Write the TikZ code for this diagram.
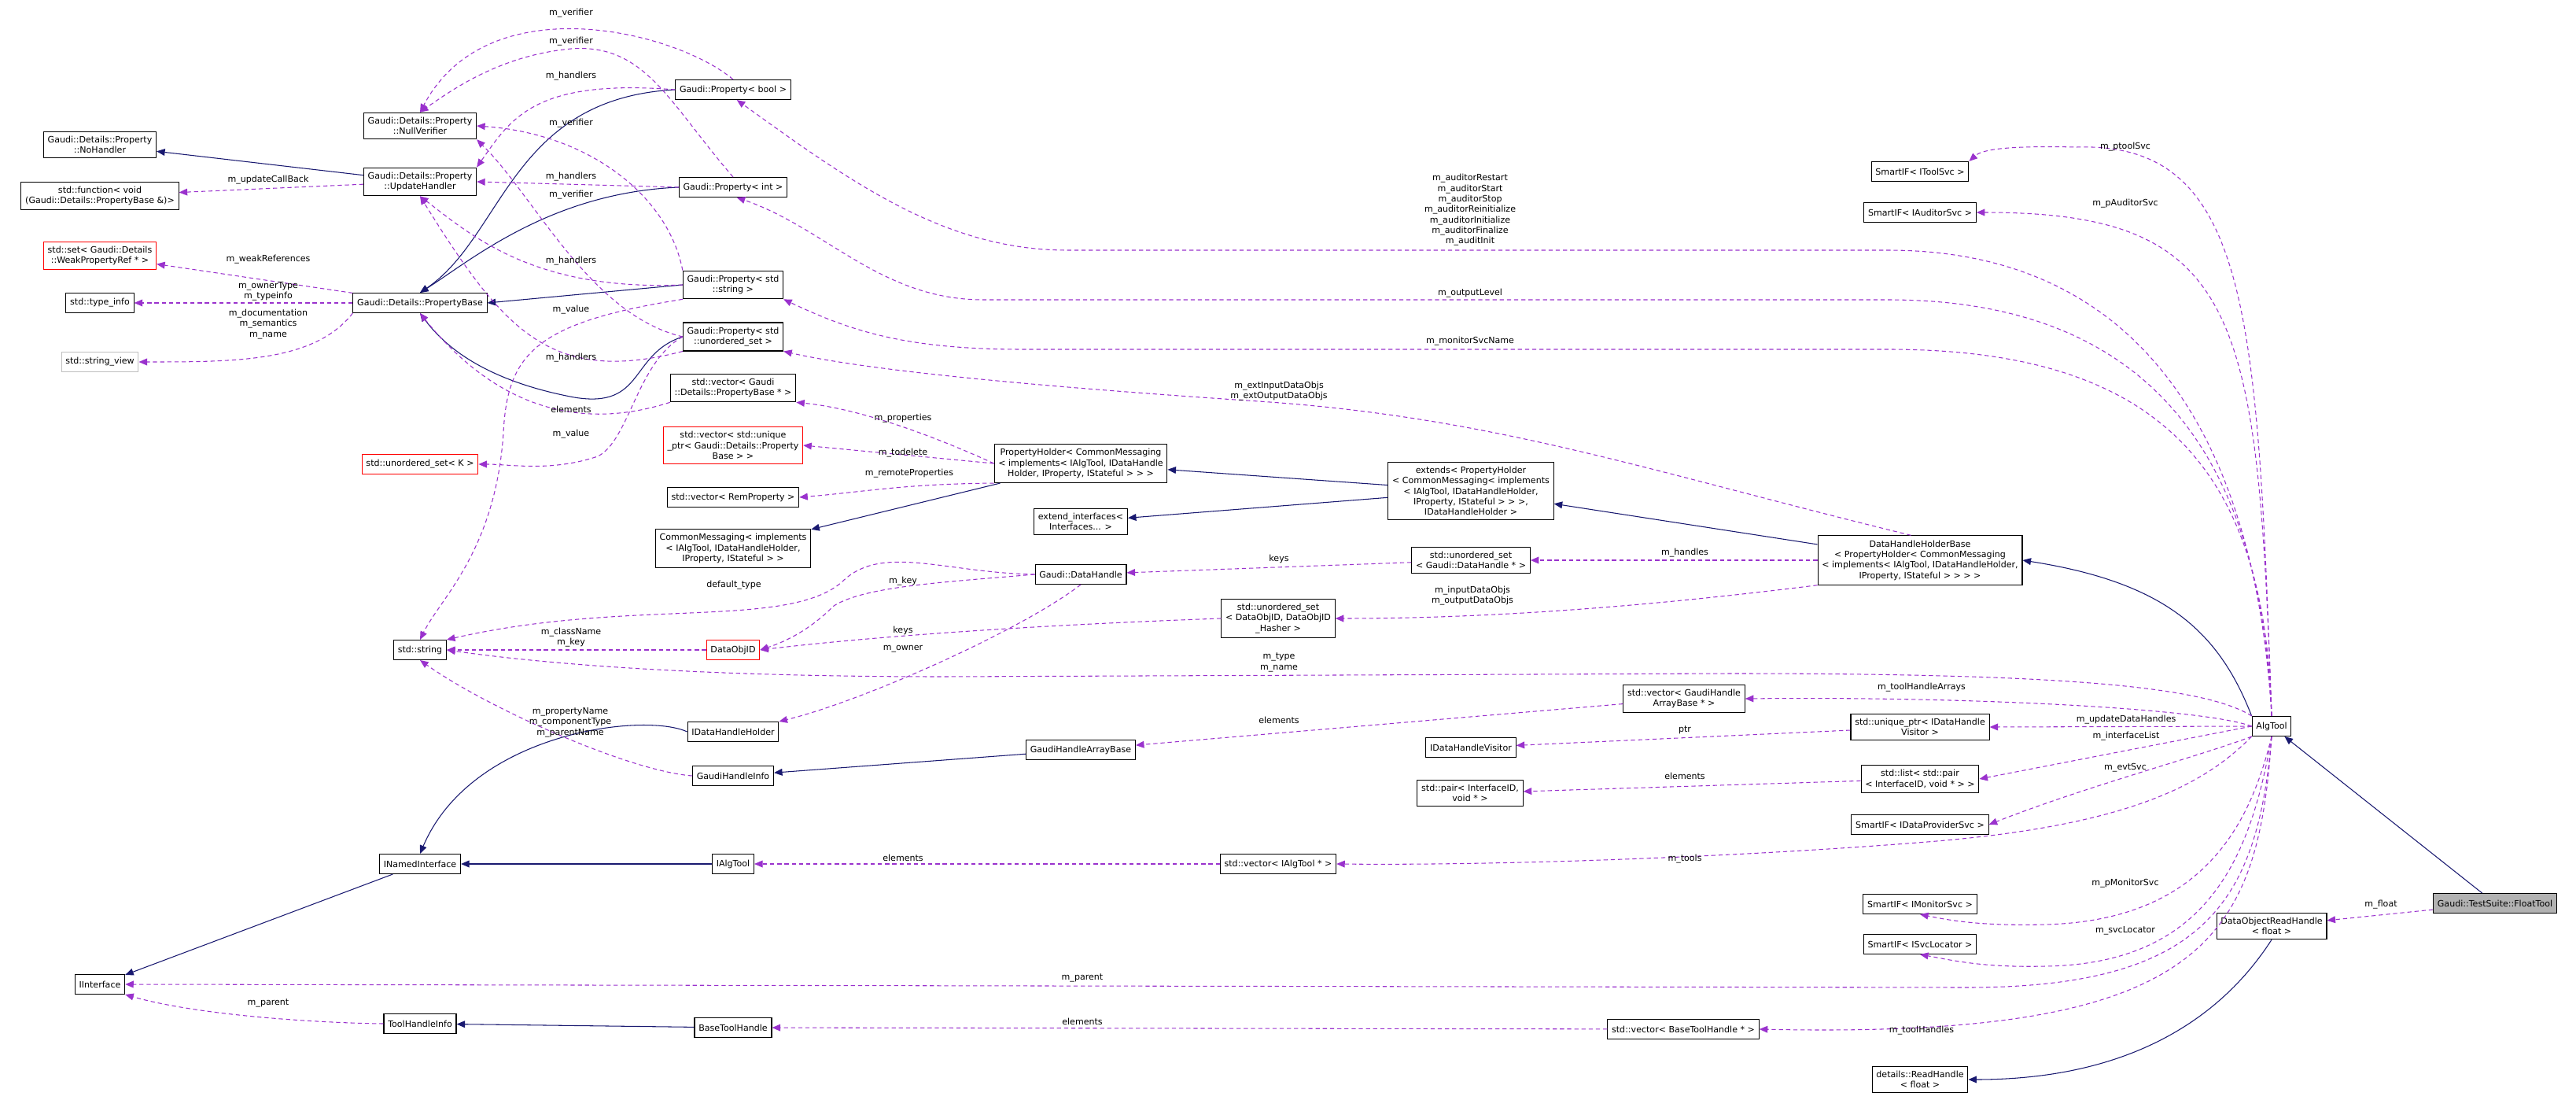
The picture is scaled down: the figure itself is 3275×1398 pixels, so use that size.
\documentclass[tikz,border=0pt]{standalone}
\usepackage{fontspec}
\setmainfont{DejaVu Sans}
\usetikzlibrary{arrows.meta}
\definecolor{purp}{HTML}{9A32CD}
\definecolor{navy}{HTML}{191970}
\definecolor{redb}{HTML}{FF0000}
\begin{document}
\begin{tikzpicture}[x=0.02cm,y=-0.02cm,
  box/.style={draw=black,line width=0.6pt,fill=white,inner xsep=3pt,inner ysep=3.3pt,minimum height=0.5cm,align=center,font=\fontsize{6.3}{7.6}\selectfont},
  redbox/.style={box,draw=redb},
  graybox/.style={box,draw=gray!50},
  lab/.style={inner sep=0pt,align=center,font=\fontsize{6.3}{7.6}\selectfont},
  inh/.style={draw=navy,line width=0.6pt,-{Triangle[length=6pt,width=5pt]}},
  use/.style={draw=purp,line width=0.6pt,dash pattern=on 3pt off 2.2pt,-{Triangle[length=6pt,width=5pt]}}]
\useasboundingbox (0,0) rectangle (3275,1398);
% nodes
\node[box] (Pbool) at (932,114) {Gaudi::Property< bool >};
\node[box] (NullV) at (534,160) {Gaudi::Details::Property\\::NullVerifier};
\node[box] (NoH) at (127,184) {Gaudi::Details::Property\\::NoHandler};
\node[box] (UpdH) at (534,231) {Gaudi::Details::Property\\::UpdateHandler};
\node[box] (func) at (127,249) {std::function< void\\(Gaudi::Details::PropertyBase \&)>};
\node[box] (Pint) at (932,238) {Gaudi::Property< int >};
\node[redbox] (set) at (127,325) {std::set< Gaudi::Details\\::WeakPropertyRef * >};
\node[box] (tinfo) at (127,385) {std::type\_info};
\node[box] (PB) at (534,385) {Gaudi::Details::PropertyBase};
\node[graybox] (sview) at (127,460) {std::string\_view};
\node[box] (Pstr) at (932,362) {Gaudi::Property< std\\::string >};
\node[box] (Pus) at (932,428) {Gaudi::Property< std\\::unordered\_set >};
\node[box] (vPB) at (932,493) {std::vector< Gaudi\\::Details::PropertyBase * >};
\node[redbox] (vUP) at (932,566) {std::vector< std::unique\\\_ptr< Gaudi::Details::Property\\Base > >};
\node[redbox] (usK) at (534,590) {std::unordered\_set< K >};
\node[box] (vRem) at (932,632) {std::vector< RemProperty >};
\node[box] (CM) at (932,697) {CommonMessaging< implements\\< IAlgTool, IDataHandleHolder,\\IProperty, IStateful > >};
\node[box] (str) at (534,826) {std::string};
\node[redbox] (DOID) at (932,826) {DataObjID};
\node[box] (IDHH) at (932,930) {IDataHandleHolder};
\node[box] (GHI) at (932,986) {GaudiHandleInfo};
\node[box] (INI) at (534,1098) {INamedInterface};
\node[box] (IAT) at (932,1098) {IAlgTool};
\node[box] (IInt) at (127,1251) {IInterface};
\node[box] (THI) at (534,1301) {ToolHandleInfo};
\node[box] (BTH) at (932,1306) {BaseToolHandle};
\node[box] (PH) at (1374,589) {PropertyHolder< CommonMessaging\\< implements< IAlgTool, IDataHandle\\Holder, IProperty, IStateful > > >};
\node[box] (EXT) at (1870,624) {extends< PropertyHolder\\< CommonMessaging< implements\\< IAlgTool, IDataHandleHolder,\\IProperty, IStateful > > >,\\IDataHandleHolder >};
\node[box] (EI) at (1374,663) {extend\_interfaces<\\Interfaces... >};
\node[box] (DH) at (1374,730) {Gaudi::DataHandle};
\node[box] (usDH) at (1870,712) {std::unordered\_set\\< Gaudi::DataHandle * >};
\node[box] (usDO) at (1625,786) {std::unordered\_set\\< DataObjID, DataObjID\\\_Hasher >};
\node[box] (vGHA) at (2141,888) {std::vector< GaudiHandle\\ArrayBase * >};
\node[box] (GHAB) at (1374,953) {GaudiHandleArrayBase};
\node[box] (IDHV) at (1870,950) {IDataHandleVisitor};
\node[box] (pair) at (1869,1008) {std::pair< InterfaceID,\\void * >};
\node[box] (vIAT) at (1625,1098) {std::vector< IAlgTool * >};
\node[box] (vBTH) at (2140,1308) {std::vector< BaseToolHandle * >};
\node[box] (SIT) at (2441,218) {SmartIF< IToolSvc >};
\node[box] (SIA) at (2441,270) {SmartIF< IAuditorSvc >};
\node[box] (DHHB) at (2441,712) {DataHandleHolderBase\\< PropertyHolder< CommonMessaging\\< implements< IAlgTool, IDataHandleHolder,\\IProperty, IStateful > > > >};
\node[box] (uDHV) at (2441,924) {std::unique\_ptr< IDataHandle\\Visitor >};
\node[box] (AT) at (2888,923) {AlgTool};
\node[box] (list) at (2441,990) {std::list< std::pair\\< InterfaceID, void * > >};
\node[box] (SIDP) at (2441,1048) {SmartIF< IDataProviderSvc >};
\node[box] (SIM) at (2441,1149) {SmartIF< IMonitorSvc >};
\node[box] (SISL) at (2441,1200) {SmartIF< ISvcLocator >};
\node[box] (RH) at (2441,1372) {details::ReadHandle\\< float >};
\node[box] (DORH) at (2888,1177) {DataObjectReadHandle\\< float >};
\node[box,fill=gray!60] (FT) at (3172,1148) {Gaudi::TestSuite::FloatTool};
% inheritance
\draw[inh] (UpdH) -- (NoH);
\draw[inh] (Pbool.west) .. controls (650,125) and (640,300) .. (PB.north);
\draw[inh] (Pint.west) .. controls (700,245) and (600,330) .. (PB.north);
\draw[inh] (Pstr.west) -- (PB.east);
\draw[inh] (Pus.west) .. controls (800,450) and (820,520) .. (730,505) .. controls (650,490) and (580,460) .. (PB.south);
\draw[inh] (EXT) -- (PH);
\draw[inh] (PH) -- (CM);
\draw[inh] (EXT) -- (EI);
\draw[inh] (DHHB) -- (EXT);
\draw[inh] (AT.north west) .. controls (2820,800) and (2750,740) .. (DHHB.east);
\draw[inh] (IDHH.west) .. controls (820,905) and (600,930) .. (INI.north);
\draw[inh] (IAT) -- (INI);
\draw[inh] (INI) -- (IInt);
\draw[inh] (GHAB) -- (GHI);
\draw[inh] (BTH) -- (THI);
\draw[inh] (FT) -- (AT);
\draw[inh] (DORH.south) .. controls (2820,1300) and (2700,1372) .. (RH.east);
% usage
\draw[use] (Pbool.north) .. controls (860,40) and (620,-20) .. (NullV.north);
\draw[use] (Pint.north) .. controls (850,130) and (820,55) .. (726,62) .. controls (640,70) and (580,110) .. (NullV.north);
\draw[use] (Pstr.north west) .. controls (850,250) and (750,170) .. (NullV.east);
\draw[use] (Pus.west) .. controls (750,400) and (680,250) .. (NullV.south east);
\draw[use] (Pbool.west) .. controls (680,100) and (650,150) .. (UpdH.north east);
\draw[use] (Pint.west) -- (UpdH.east);
\draw[use] (Pstr.west) .. controls (680,370) and (600,300) .. (UpdH.south);
\draw[use] (Pus.south west) .. controls (700,490) and (640,420) .. (UpdH.south);
\draw[use] (UpdH) -- (func);
\draw[use] (PB) -- (set);
\draw[use] (PB) -- (tinfo);
\draw[use] (PB.south west) .. controls (400,460) and (300,460) .. (sview.east);
\draw[use] (vPB.south west) .. controls (700,560) and (600,480) .. (PB.south);
\draw[use] (Pstr.south west) .. controls (680,410) and (645,450) .. (640,550) .. controls (630,700) and (560,760) .. (str.north);
\draw[use] (Pus.west) .. controls (810,460) and (800,560) .. (760,580) .. controls (700,600) and (650,590) .. (usK.east);
\draw[use] (AT.north) .. controls (2870,600) and (2750,318) .. (2400,318) -- (1357,318) .. controls (1200,318) and (1080,230) .. (Pbool.290);
\draw[use] (AT.north) .. controls (2875,600) and (2750,381) .. (2400,381) -- (1250,381) .. controls (1120,381) and (1050,290) .. (Pint.290);
\draw[use] (AT.north) .. controls (2880,600) and (2750,444) .. (2400,444) -- (1300,444) .. controls (1150,444) and (1080,420) .. (Pstr.south east);
\draw[use] (DHHB.110) .. controls (2100,600) and (1900,530) .. (1600,510) .. controls (1300,490) and (1100,470) .. (Pus.south east);
\draw[use] (PH.west) .. controls (1200,560) and (1100,520) .. (vPB.south east);
\draw[use] (PH.west) -- (vUP.east);
\draw[use] (PH.south west) .. controls (1150,615) and (1100,625) .. (vRem.east);
\draw[use] (DH.west) .. controls (1200,728) and (1120,690) .. (1070,740) .. controls (1000,800) and (800,760) .. (str.north east);
\draw[use] (DH.west) .. controls (1200,740) and (1100,745) .. (1060,770) .. controls (1030,800) and (1000,815) .. (DOID.east);
\draw[use] (DOID) -- (str);
\draw[use] (usDO.west) .. controls (1300,795) and (1100,810) .. (DOID.east);
\draw[use] (DH.south) .. controls (1300,800) and (1100,890) .. (IDHH.north east);
\draw[use] (usDH) -- (DH);
\draw[use] (DHHB.west) -- (usDH.east);
\draw[use] (DHHB.south west) .. controls (2100,770) and (1900,786) .. (usDO.east);
\draw[use] (AT.north west) .. controls (2800,870) and (2600,856) .. (2200,856) -- (1200,860) .. controls (900,860) and (700,845) .. (str.east);
\draw[use] (GHI.west) .. controls (800,980) and (620,900) .. (str.south);
\draw[use] (vGHA) -- (GHAB);
\draw[use] (AT.west) .. controls (2800,900) and (2500,885) .. (vGHA.east);
\draw[use] (uDHV) -- (IDHV);
\draw[use] (AT.west) -- (uDHV.east);
\draw[use] (list) -- (pair);
\draw[use] (AT.west) -- (list.east);
\draw[use] (AT.south west) .. controls (2800,960) and (2650,1000) .. (SIDP.east);
\draw[use] (vIAT) -- (IAT);
\draw[use] (AT.south west) .. controls (2800,1000) and (2700,1050) .. (2450,1070) .. controls (2200,1090) and (1900,1100) .. (vIAT.east);
\draw[use] (AT.north) .. controls (2870,400) and (2860,180) .. (2640,187) .. controls (2550,185) and (2520,190) .. (SIT.north east);
\draw[use] (AT.north) .. controls (2870,400) and (2850,270) .. (SIA.east);
\draw[use] (AT.south) .. controls (2860,1050) and (2800,1170) .. (2600,1175) .. controls (2520,1177) and (2480,1170) .. (SIM.south);
\draw[use] (AT.south) .. controls (2860,1100) and (2800,1225) .. (2600,1228) .. controls (2520,1230) and (2480,1220) .. (SISL.south);
\draw[use] (AT.south) .. controls (2870,1150) and (2800,1255) .. (2500,1255) -- (IInt.east);
\draw[use] (THI.west) .. controls (400,1300) and (250,1290) .. (IInt.south east);
\draw[use] (vBTH) -- (BTH);
\draw[use] (AT.south) .. controls (2870,1200) and (2800,1320) .. (vBTH.east);
\draw[use] (FT) -- (DORH);
% labels
\node[lab] (l1) at (726,17) {m\_verifier};
\node[lab] (l2) at (726,53) {m\_verifier};
\node[lab] (l3) at (726,157) {m\_verifier};
\node[lab] (l4) at (726,248) {m\_verifier};
\node[lab] (l5) at (726,97) {m\_handlers};
\node[lab] (l6) at (726,225) {m\_handlers};
\node[lab] (l7) at (726,332) {m\_handlers};
\node[lab] (l8) at (726,455) {m\_handlers};
\node[lab] (l9) at (341,229) {m\_updateCallBack};
\node[lab] (l10) at (341,330) {m\_weakReferences};
\node[lab] (l11) at (341,370) {m\_ownerType\\m\_typeinfo};
\node[lab] (l12) at (341,412) {m\_documentation\\m\_semantics\\m\_name};
\node[lab] (l13) at (726,394) {m\_value};
\node[lab] (l14) at (726,552) {m\_value};
\node[lab] (l15) at (726,520) {elements};
\node[lab] (l16) at (1869,267) {m\_auditorRestart\\m\_auditorStart\\m\_auditorStop\\m\_auditorReinitialize\\m\_auditorInitialize\\m\_auditorFinalize\\m\_auditInit};
\node[lab] (l17) at (1869,373) {m\_outputLevel};
\node[lab] (l18) at (1869,434) {m\_monitorSvcName};
\node[lab] (l19) at (1626,497) {m\_extInputDataObjs\\m\_extOutputDataObjs};
\node[lab] (l20) at (1148,532) {m\_properties};
\node[lab] (l21) at (1148,576) {m\_todelete};
\node[lab] (l22) at (1156,602) {m\_remoteProperties};
\node[lab] (l23) at (933,744) {default\_type};
\node[lab] (l24) at (726,810) {m\_className\\m\_key};
\node[lab] (l25) at (1148,739) {m\_key};
\node[lab] (l26) at (1626,710) {keys};
\node[lab] (l27) at (1148,801) {keys};
\node[lab] (l28) at (1148,825) {m\_owner};
\node[lab] (l29) at (1872,757) {m\_inputDataObjs\\m\_outputDataObjs};
\node[lab] (l30) at (2142,703) {m\_handles};
\node[lab] (l31) at (1626,842) {m\_type\\m\_name};
\node[lab] (l32) at (725,918) {m\_propertyName\\m\_componentType\\m\_parentName};
\node[lab] (l33) at (1626,915) {elements};
\node[lab] (l34) at (2443,874) {m\_toolHandleArrays};
\node[lab] (l35) at (2142,928) {ptr};
\node[lab] (l36) at (2703,915) {m\_updateDataHandles};
\node[lab] (l37) at (2703,936) {m\_interfaceList};
\node[lab] (l38) at (2142,986) {elements};
\node[lab] (l39) at (2702,976) {m\_evtSvc};
\node[lab] (l40) at (1148,1090) {elements};
\node[lab] (l41) at (2142,1092) {m\_tools};
\node[lab] (l42) at (2702,187) {m\_ptoolSvc};
\node[lab] (l43) at (2702,259) {m\_pAuditorSvc};
\node[lab] (l44) at (2702,1123) {m\_pMonitorSvc};
\node[lab] (l45) at (2702,1183) {m\_svcLocator};
\node[lab] (l46) at (1376,1243) {m\_parent};
\node[lab] (l47) at (341,1275) {m\_parent};
\node[lab] (l48) at (1376,1298) {elements};
\node[lab] (l49) at (2443,1310) {m\_toolHandles};
\node[lab] (l50) at (3027,1150) {m\_float};
\end{tikzpicture}
\end{document}
